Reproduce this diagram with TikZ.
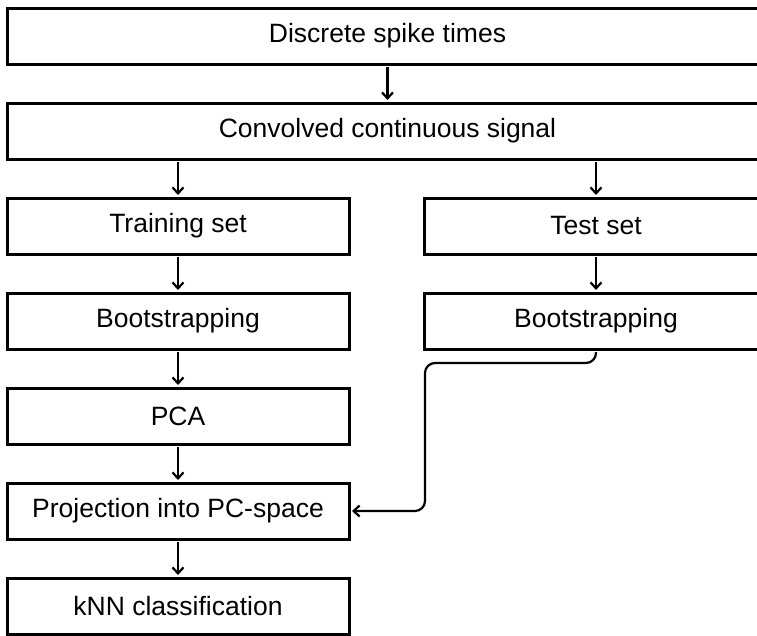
\documentclass[tikz,border=0pt]{standalone}
\usepackage{fontspec}
\setmainfont{Liberation Sans}
\usetikzlibrary{positioning,arrows.meta}
\tikzset{box/.style={draw, line width=3pt, inner sep=0pt, outer sep=0pt,
    minimum height=56pt, font=\fontsize{26.5}{30}\selectfont}}
\tikzset{wide/.style={minimum width=761pt}}
\tikzset{half/.style={minimum width=342pt}}
\tikzset{flow/.style={line width=2.2pt, -{Straight Barb[length=6pt,width=11pt]},
    shorten <=3pt, shorten >=3pt}}
\begin{document}
\begin{tikzpicture}[x=1pt,y=1pt,node distance=39pt]
\useasboundingbox (0,0) rectangle (757,-635);
% common part
\node[box,wide] (spikes) at (387.5,-36) {Discrete spike times};
\node[box,wide,below=of spikes] (conv) {Convolved continuous signal};
% training branch
\node[box,half,below right=39pt and 0pt of conv.south west] (train) {Training set};
\node[box,half,below=of train] (bootL) {Bootstrapping};
\node[box,half,below=of bootL] (pca) {PCA};
\node[box,half,below=of pca] (proj) {Projection into PC-space};
\node[box,half,below=of proj] (knn) {kNN classification};
% test branch
\node[box,minimum width=344pt,below left=39pt and 0pt of conv.south east] (test) {Test set};
\node[box,minimum width=344pt,below=of test] (bootR) {Bootstrapping};
\coordinate (turn) at (425,-363);

\draw[flow] (spikes) -- (conv);
\draw[flow] (conv.south -| train) -- (train);
\draw[flow] (conv.south -| test) -- (test);
\draw[flow] (train) -- (bootL);
\draw[flow] (bootL) -- (pca);
\draw[flow] (pca) -- (proj);
\draw[flow] (proj) -- (knn);
\draw[flow] (test) -- (bootR);
\draw[flow, rounded corners=10pt] (bootR.south) |- (turn) |- (proj.east);
\end{tikzpicture}
\end{document}
